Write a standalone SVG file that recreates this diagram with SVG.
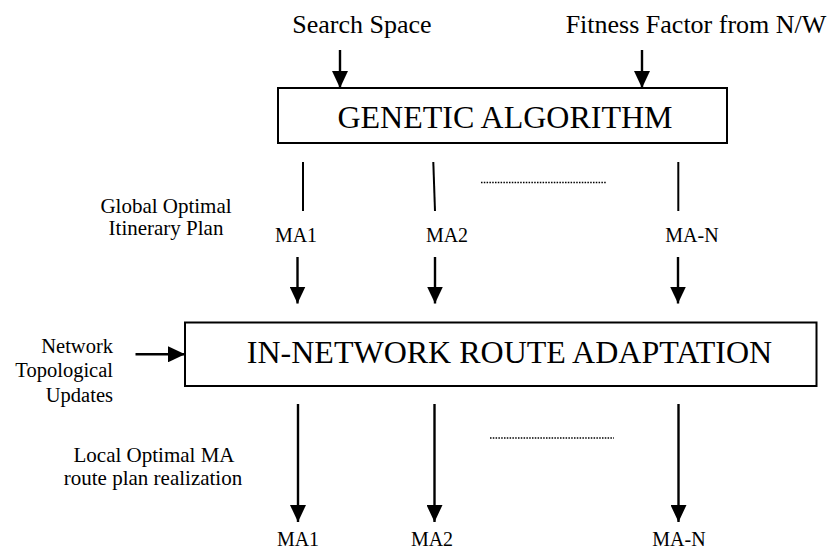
<svg xmlns="http://www.w3.org/2000/svg" width="831" height="550" viewBox="0 0 831 550">
  <style>
    .t { font-family: "Liberation Serif", "Times New Roman", serif; fill: #000; }
    .box { fill: #fff; stroke: #000; stroke-width: 2; }
    .ln { stroke: #000; stroke-width: 2; fill: none; }
    .arr { stroke: #000; stroke-width: 2.4; fill: none; marker-end: url(#ah); }
    .dot { stroke: #000; stroke-width: 1.3; stroke-dasharray: 1.5 1.3; fill: none; }
  </style>
  <defs>
    <marker id="ah" markerUnits="userSpaceOnUse" markerWidth="17" markerHeight="16" refX="17" refY="8" orient="auto">
      <path d="M0,0 L17,8 L0,16 z" fill="#000"/>
    </marker>
  </defs>
  <rect width="831" height="550" fill="#fff"/>

  <g id="search-space">
    <text class="t" x="362" y="33" font-size="26" text-anchor="middle">Search Space</text>
  </g>
  <g id="fitness-factor">
    <text class="t" x="696" y="33" font-size="26" text-anchor="middle">Fitness Factor from N/W</text>
  </g>
  <g id="genetic-algorithm">
    <rect class="box" x="278" y="88" width="449" height="55"/>
    <text class="t" x="505" y="128" font-size="32" text-anchor="middle">GENETIC ALGORITHM</text>
  </g>
  <g id="global-label">
    <text class="t" x="166" y="213" font-size="21" text-anchor="middle">Global Optimal</text>
    <text class="t" x="166" y="235" font-size="21" text-anchor="middle">Itinerary Plan</text>
  </g>
  <g id="ma1-top">
    <text class="t" x="296" y="242" font-size="20" text-anchor="middle">MA1</text>
  </g>
  <g id="ma2-top">
    <text class="t" x="447" y="242" font-size="20" text-anchor="middle">MA2</text>
  </g>
  <g id="man-top">
    <text class="t" x="692" y="242" font-size="20" text-anchor="middle">MA-N</text>
  </g>
  <g id="route-adaptation">
    <rect class="box" x="185" y="322.5" width="631.5" height="63.5"/>
    <text class="t" x="509.5" y="363" font-size="32" text-anchor="middle">IN-NETWORK ROUTE ADAPTATION</text>
  </g>
  <g id="network-updates">
    <text class="t" x="113" y="352.7" font-size="20.5" text-anchor="end">Network</text>
    <text class="t" x="113" y="377.3" font-size="20.5" text-anchor="end">Topological</text>
    <text class="t" x="113" y="401.7" font-size="20.5" text-anchor="end">Updates</text>
  </g>
  <g id="local-label">
    <text class="t" x="154" y="462" font-size="21" text-anchor="middle">Local Optimal MA</text>
    <text class="t" x="153" y="485" font-size="21" text-anchor="middle">route plan realization</text>
  </g>
  <g id="ma1-bottom">
    <text class="t" x="298" y="546" font-size="20" text-anchor="middle">MA1</text>
  </g>
  <g id="ma2-bottom">
    <text class="t" x="432" y="546" font-size="20" text-anchor="middle">MA2</text>
  </g>
  <g id="man-bottom">
    <text class="t" x="679" y="546" font-size="20" text-anchor="middle">MA-N</text>
  </g>

  <g id="connectors">
    <line class="arr" x1="340" y1="50" x2="340" y2="88"/>
    <line class="arr" x1="642" y1="50" x2="642" y2="88"/>
    <line class="ln" x1="303" y1="162" x2="303" y2="211"/>
    <line class="ln" x1="433.3" y1="162" x2="435" y2="211"/>
    <line class="ln" x1="678.3" y1="162" x2="678.3" y2="211"/>
    <line class="dot" x1="481" y1="182.5" x2="607" y2="182.5"/>
    <line class="arr" x1="297.5" y1="257" x2="297.5" y2="303.5"/>
    <line class="arr" x1="435" y1="257" x2="435" y2="303.5"/>
    <line class="arr" x1="678" y1="257" x2="678" y2="303.5"/>
    <line class="arr" x1="135.5" y1="354.3" x2="185" y2="354.3"/>
    <line class="arr" x1="298" y1="404" x2="298" y2="522"/>
    <line class="arr" x1="434.5" y1="404" x2="434.5" y2="522"/>
    <line class="arr" x1="678.5" y1="404" x2="678.5" y2="522"/>
    <line class="dot" x1="490" y1="438" x2="614" y2="438"/>
  </g>
</svg>
